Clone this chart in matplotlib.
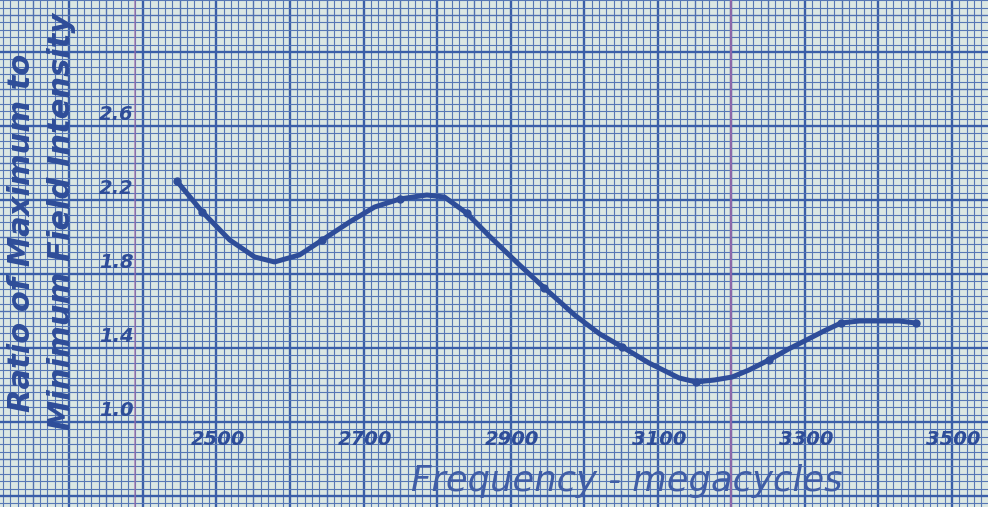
import matplotlib
matplotlib.use("Agg")
import matplotlib.pyplot as plt
import numpy as np

# traced curve (frequency in Mc, ratio max/min field intensity)
freq_curve = [2446, 2481, 2518, 2552, 2579, 2613, 2644, 2681, 2715, 2749, 2786, 2810,
              2840, 2871, 2912, 2946, 2987, 3021, 3052, 3088, 3129, 3152, 3177, 3201,
              3224, 3251, 3278, 3302, 3326, 3349, 3374, 3401, 3428, 3451]
ratio_curve = [2.303, 2.135, 1.984, 1.892, 1.865, 1.903, 1.984, 2.081, 2.162, 2.205, 2.227, 2.216,
               2.130, 2.005, 1.849, 1.724, 1.578, 1.476, 1.405, 1.319, 1.238, 1.216, 1.227, 1.243,
               1.281, 1.335, 1.395, 1.443, 1.492, 1.535, 1.546, 1.546, 1.546, 1.535]

# measured points marked on the curve
freq_pts = [2446, 2481, 2644, 2749, 2840, 2946, 3052, 3152, 3251, 3349, 3451]
ratio_pts = [2.303, 2.135, 1.984, 2.205, 2.130, 1.724, 1.405, 1.216, 1.335, 1.535, 1.535]

x_ticks = [2500, 2700, 2900, 3100, 3300, 3500]
y_ticks = [1.0, 1.4, 1.8, 2.2, 2.6]

paper = "#dbe7e3"
ink = "#2e4d99"

fig = plt.figure(figsize=(9.88, 5.07), dpi=100, facecolor=paper)
ax = fig.add_axes([0, 0, 1, 1])
ax.set_facecolor(paper)
ax.set_xlim(2205.8, 3548.9)
ax.set_ylim(0.5405, 3.281)
ax.axis("off")

# graph paper
for x in np.arange(2200, 3560, 10):
    k = int(round(x))
    if k % 100 == 0:
        ax.axvline(x, color="#3a5ea8", lw=1.7, zorder=1)
    elif k % 50 == 0:
        ax.axvline(x, color="#4f70b0", lw=1.0, zorder=1)
    else:
        ax.axvline(x, color="#5677b5", lw=0.8, zorder=1)
for y in np.arange(0.52, 3.3, 0.04):
    k = int(round(y * 100))
    if (k - 100) % 40 == 0:
        ax.axhline(y, color="#3a5ea8", lw=1.7, zorder=1)
    elif (k - 100) % 20 == 0:
        ax.axhline(y, color="#4f70b0", lw=1.0, zorder=1)
    else:
        ax.axhline(y, color="#5677b5", lw=0.8, zorder=1)
ax.axvline(3200, color="#a06aa8", lw=1.6, alpha=0.8, zorder=1.5)
ax.axvline(2390, color="#a06aa8", lw=1.2, alpha=0.7, zorder=1.5)

ax.plot(freq_curve, ratio_curve, color=ink, lw=3.6, solid_capstyle="round", zorder=3)
ax.plot(freq_pts, ratio_pts, "o", color=ink, ms=5, zorder=4)

for v in y_ticks:
    ax.text(2387, v + 0.012, f"{v:.1f}", ha="right", va="bottom", fontsize=14,
            fontweight="bold", style="italic", color=ink, zorder=5)
for v in x_ticks:
    ax.text(v + 2, 0.958, str(v), ha="center", va="top", fontsize=14,
            fontweight="bold", style="italic", color=ink, zorder=5)

fig.text(22 / 988, 1 - 233 / 507, "Ratio of Maximum to", rotation=90, ha="center", va="center",
         fontsize=22, fontweight="bold", style="italic", color=ink)
fig.text(62 / 988, 1 - 221 / 507, "Minimum Field Intensity", rotation=90, ha="center", va="center",
         fontsize=22, fontweight="bold", style="italic", color=ink)
fig.text(627 / 988, 1 - 481 / 507, "Frequency - megacycles", ha="center", va="center",
         fontsize=25.5, style="italic", color="#3f5da6")

fig.savefig("out.png", dpi=100, facecolor=paper)
